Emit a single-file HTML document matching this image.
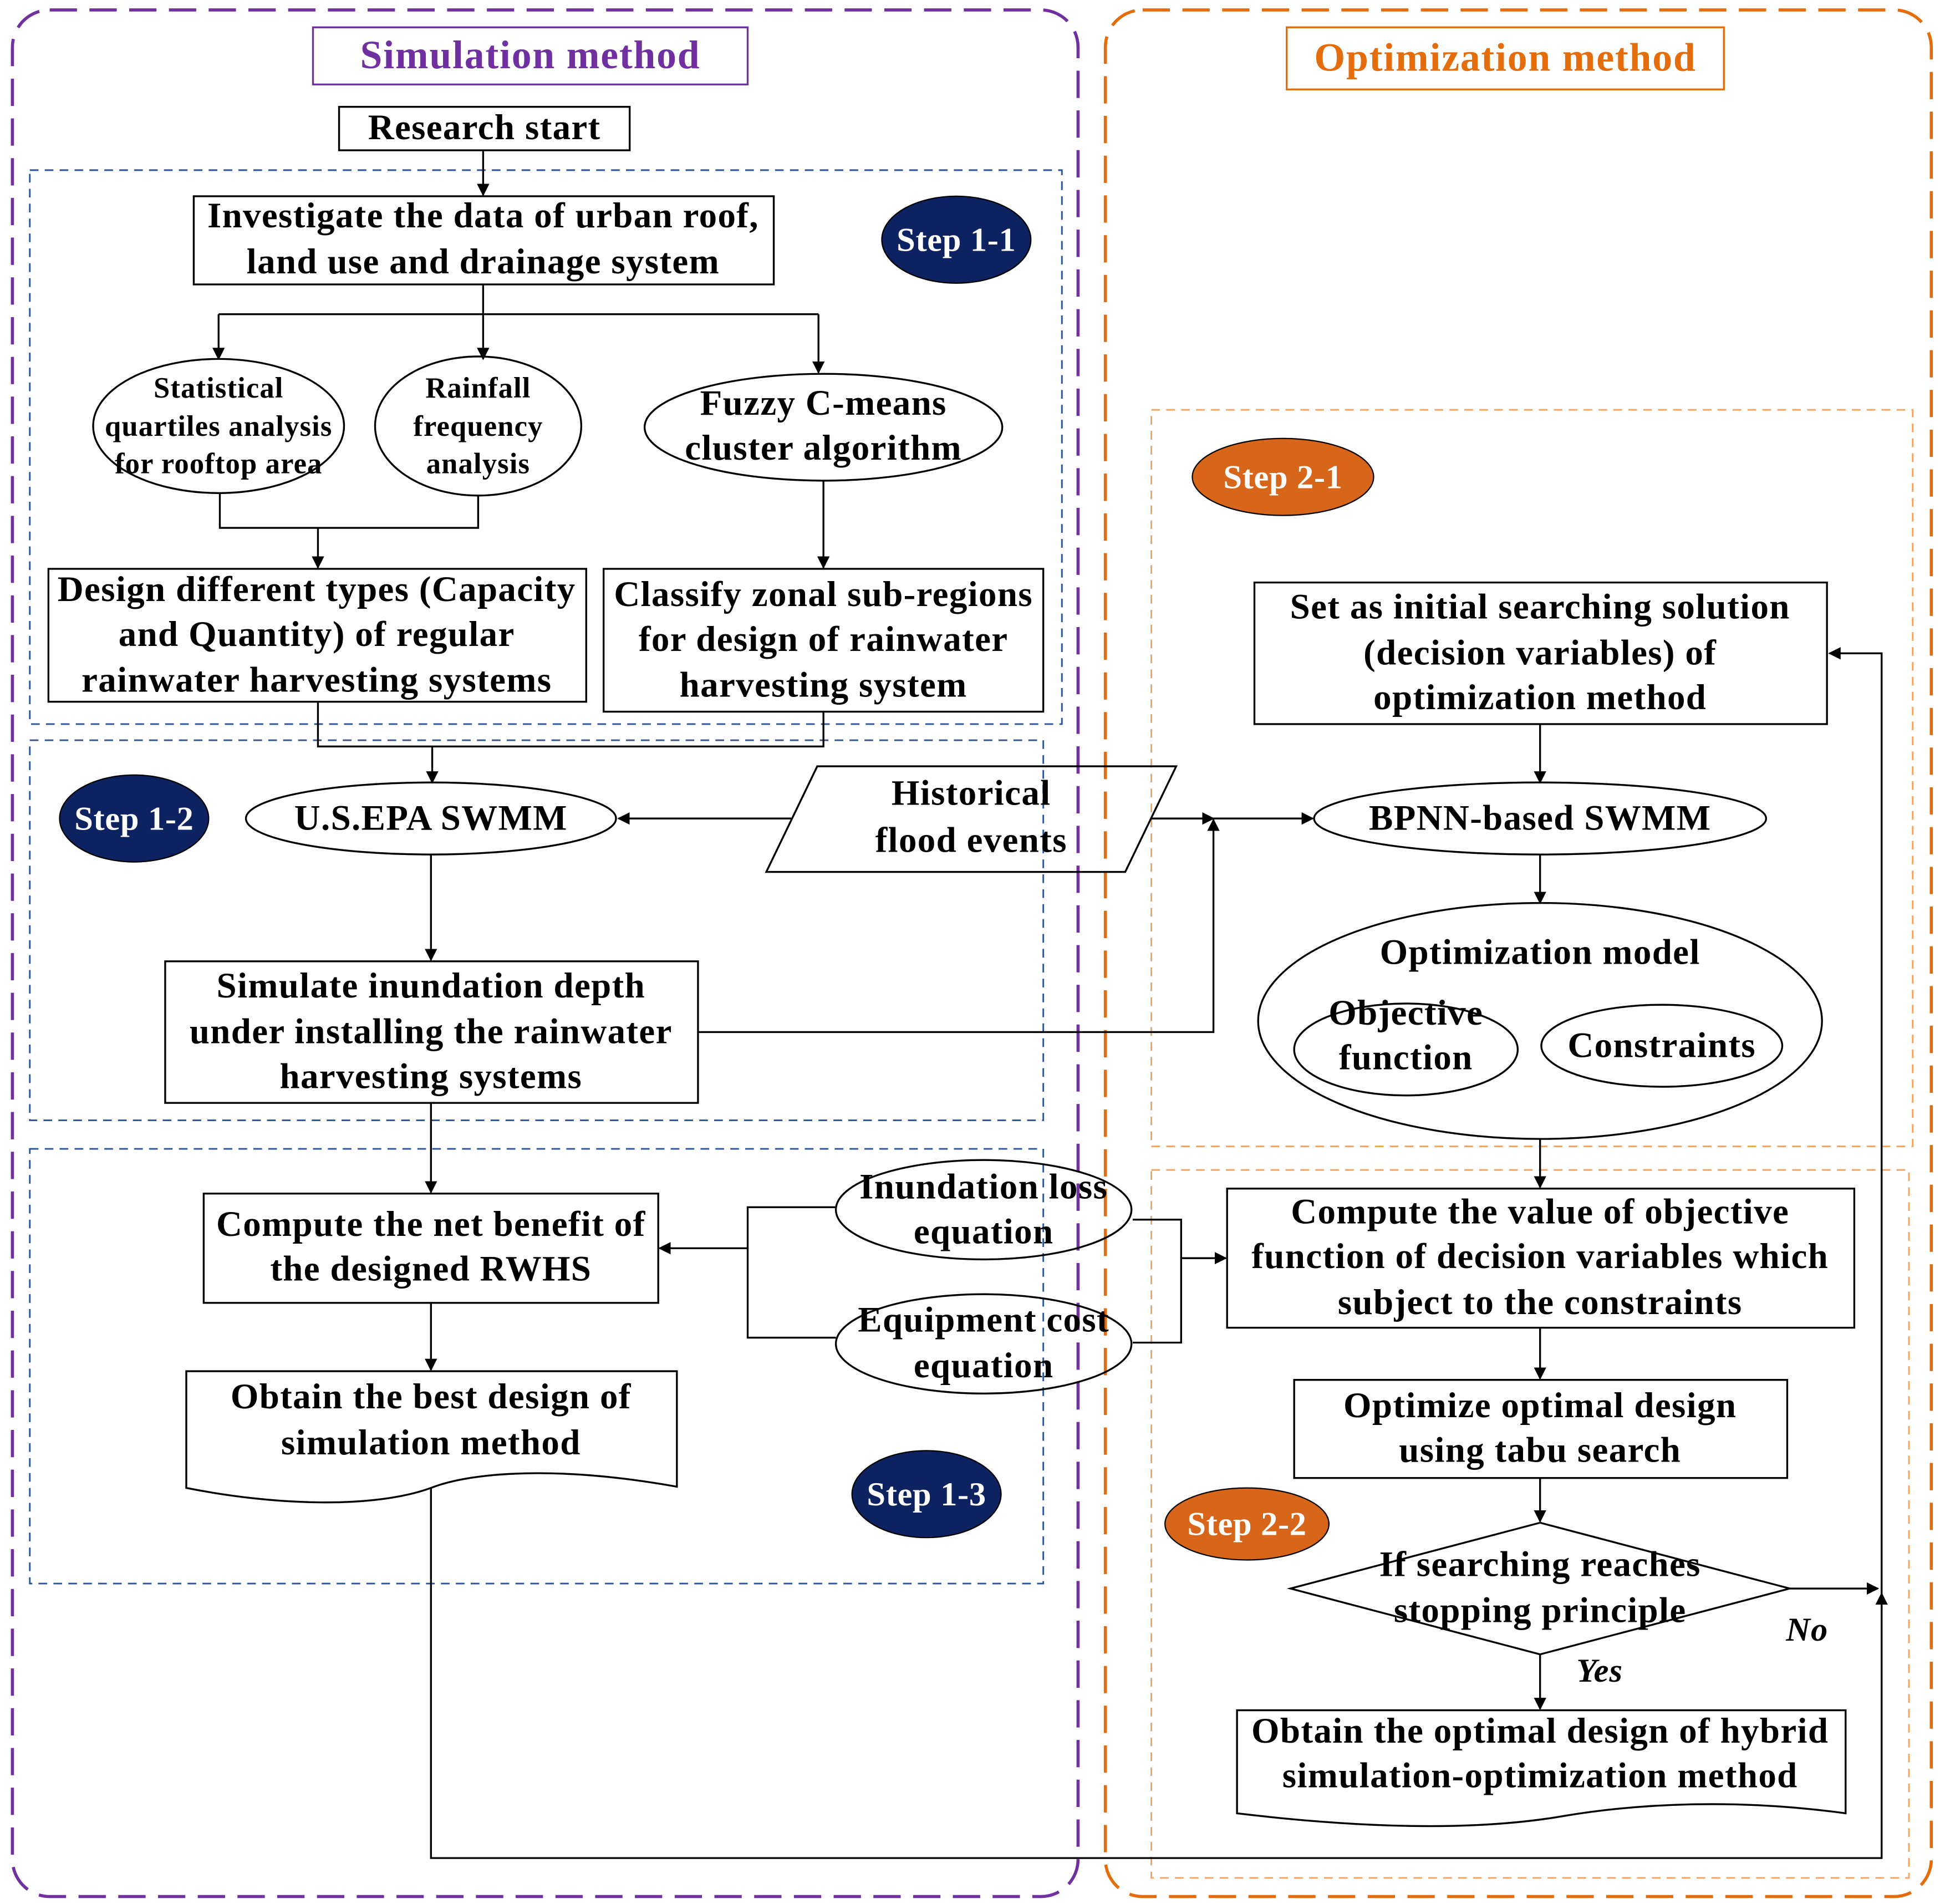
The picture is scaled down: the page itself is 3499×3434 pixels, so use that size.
<!DOCTYPE html>
<html><head><meta charset="utf-8"><style>
html,body{margin:0;padding:0;background:#fff;}
svg{display:block;}
text{font-family:"Liberation Serif",serif;font-weight:bold;fill:#000;}
</style></head><body>
<svg width="3499" height="3434" viewBox="0 0 1562 1533" preserveAspectRatio="none" xmlns="http://www.w3.org/2000/svg">
<defs>
<marker id="a" markerWidth="10" markerHeight="10" refX="9" refY="5" orient="auto" markerUnits="userSpaceOnUse"><path d="M0,0 L10,5 L0,10 z" fill="#000"/></marker>
</defs>
<rect width="1562" height="1533" fill="#fff"/>
<rect x="10" y="8" width="858" height="1519" rx="30" fill="none" stroke="#7030A0" stroke-width="2.5" stroke-dasharray="22,10"/>
<rect x="890" y="8" width="665" height="1519" rx="30" fill="none" stroke="#E46C0A" stroke-width="2.5" stroke-dasharray="22,10"/>
<rect x="252" y="22" width="350" height="46" fill="#fff" stroke="#7030A0" stroke-width="1.5"/>
<text x="427" y="55" font-size="32" letter-spacing="0.8" text-anchor="middle" style="fill:#7030A0">Simulation method</text>
<rect x="1036" y="22" width="352" height="50" fill="#fff" stroke="#E46C0A" stroke-width="1.5"/>
<text x="1212" y="57" font-size="32" letter-spacing="0.8" text-anchor="middle" style="fill:#E46C0A">Optimization method</text>
<g fill="none" stroke-width="1.3" stroke-dasharray="7,5">
<rect x="24" y="137" width="831" height="446" stroke="#2F5597"/>
<rect x="24" y="596" width="816" height="306" stroke="#2F5597"/>
<rect x="24" y="925" width="816" height="350" stroke="#2F5597"/>
<rect x="927" y="330" width="613" height="593" stroke="#F4A460"/>
<rect x="927" y="942" width="610" height="570" stroke="#F4A460"/>
</g>
<g fill="none" stroke="#000" stroke-width="1.5">
<rect x="273" y="86" width="234" height="35"/>
<rect x="156" y="158" width="467" height="71"/>
<rect x="39" y="458" width="433" height="107"/>
<rect x="486" y="458" width="354" height="115"/>
<rect x="133" y="774" width="429" height="114"/>
<rect x="164" y="961" width="366" height="88"/>
<rect x="1010" y="469" width="461" height="114"/>
<rect x="988" y="957" width="505" height="112"/>
<rect x="1042" y="1111" width="397" height="79"/>
<ellipse cx="176" cy="343" rx="101" ry="54"/>
<ellipse cx="385" cy="343" rx="83" ry="56"/>
<ellipse cx="663" cy="344" rx="144" ry="43"/>
<ellipse cx="347" cy="659" rx="149" ry="29"/>
<ellipse cx="792" cy="974" rx="119" ry="40"/>
<ellipse cx="792" cy="1082" rx="119" ry="40"/>
<ellipse cx="1240" cy="659" rx="182" ry="29"/>
<ellipse cx="1240" cy="822" rx="227" ry="95"/>
<ellipse cx="1132" cy="845" rx="90" ry="37"/>
<ellipse cx="1338" cy="842" rx="97" ry="33"/>
<polygon points="617,702 658,617 947,617 906,702"/>
<polygon points="1039,1279 1240,1226 1441,1279 1240,1332"/>
<path d="M150,1104 H545 V1197 C450,1180 380,1185 347,1198 C300,1215 220,1212 150,1198 Z"/>
<path d="M996,1377 H1486 V1460 C1400,1448 1320,1452 1260,1462 C1180,1476 1080,1470 996,1460 Z"/>
<path d="M389,121 V157" marker-end="url(#a)"/>
<path d="M389,229 V253 M176,253 H659"/>
<path d="M176,253 V289" marker-end="url(#a)"/>
<path d="M389,253 V289" marker-end="url(#a)"/>
<path d="M659,253 V300" marker-end="url(#a)"/>
<path d="M177,397 V425 H385 V399"/>
<path d="M256,425 V457" marker-end="url(#a)"/>
<path d="M663,387 V457" marker-end="url(#a)"/>
<path d="M256,565 V601 H663 V573"/>
<path d="M348,601 V630" marker-end="url(#a)"/>
<path d="M637,659 H498" marker-end="url(#a)"/>
<path d="M927,659 H1057" marker-end="url(#a)"/>
<path d="M927,659 H977" marker-end="url(#a)"/>
<path d="M562,831 H977 V660" marker-end="url(#a)"/>
<path d="M347,688 V773" marker-end="url(#a)"/>
<path d="M347,888 V960" marker-end="url(#a)"/>
<path d="M673,972 H602 V1077 H673"/>
<path d="M602,1005 H531" marker-end="url(#a)"/>
<path d="M912,982 H951 V1081 H912"/>
<path d="M951,1013 H987" marker-end="url(#a)"/>
<path d="M347,1049 V1103" marker-end="url(#a)"/>
<path d="M347,1198 V1496 H1515 V1283" marker-end="url(#a)"/>
<path d="M1240,583 V630" marker-end="url(#a)"/>
<path d="M1240,688 V727" marker-end="url(#a)"/>
<path d="M1240,917 V956" marker-end="url(#a)"/>
<path d="M1240,1069 V1110" marker-end="url(#a)"/>
<path d="M1240,1190 V1225" marker-end="url(#a)"/>
<path d="M1441,1279 H1512" marker-end="url(#a)"/>
<path d="M1515,1296 V526 H1473" marker-end="url(#a)"/>
<path d="M1240,1332 V1376" marker-end="url(#a)"/>
</g>
<g stroke="#000" stroke-width="1">
<ellipse cx="770" cy="193" rx="60" ry="35" fill="#0D2260"/>
<ellipse cx="108" cy="659" rx="60" ry="35" fill="#0D2260"/>
<ellipse cx="746" cy="1203" rx="60" ry="35" fill="#0D2260"/>
<ellipse cx="1033" cy="384" rx="73" ry="31" fill="#D8661A"/>
<ellipse cx="1004" cy="1227" rx="66" ry="29" fill="#D8661A"/>
</g>
<g font-size="27" text-anchor="middle" letter-spacing="0.3">
<text x="770" y="202" style="fill:#fff">Step 1-1</text>
<text x="108" y="668" style="fill:#fff">Step 1-2</text>
<text x="746" y="1212" style="fill:#fff">Step 1-3</text>
<text x="1033" y="393" style="fill:#fff">Step 2-1</text>
<text x="1004" y="1236" style="fill:#fff">Step 2-2</text>
</g>
<g font-size="29" text-anchor="middle" letter-spacing="0.6">
<text x="390" y="112">Research start</text>
<text x="389" y="183">Investigate the data of urban roof,</text>
<text x="389" y="220">land use and drainage system</text>
<text x="663" y="334">Fuzzy C-means</text>
<text x="663" y="370">cluster algorithm</text>
<text x="255" y="484">Design different types (Capacity</text>
<text x="255" y="520">and Quantity) of regular</text>
<text x="255" y="557">rainwater harvesting systems</text>
<text x="663" y="488">Classify zonal sub-regions</text>
<text x="663" y="524">for design of rainwater</text>
<text x="663" y="561">harvesting system</text>
<text x="347" y="668">U.S.EPA SWMM</text>
<text x="782" y="648">Historical</text>
<text x="782" y="686">flood events</text>
<text x="347" y="803">Simulate inundation depth</text>
<text x="347" y="840">under installing the rainwater</text>
<text x="347" y="876">harvesting systems</text>
<text x="347" y="995">Compute the net benefit of</text>
<text x="347" y="1031">the designed RWHS</text>
<text x="792" y="965">Inundation loss</text>
<text x="792" y="1001">equation</text>
<text x="792" y="1072">Equipment cost</text>
<text x="792" y="1109">equation</text>
<text x="347" y="1134">Obtain the best design of</text>
<text x="347" y="1171">simulation method</text>
<text x="1240" y="498">Set as initial searching solution</text>
<text x="1240" y="535">(decision variables) of</text>
<text x="1240" y="571">optimization method</text>
<text x="1240" y="668">BPNN-based SWMM</text>
<text x="1240" y="776">Optimization model</text>
<text x="1132" y="825">Objective</text>
<text x="1132" y="861">function</text>
<text x="1338" y="851">Constraints</text>
<text x="1240" y="985">Compute the value of objective</text>
<text x="1240" y="1021">function of decision variables which</text>
<text x="1240" y="1058">subject to the constraints</text>
<text x="1240" y="1141">Optimize optimal design</text>
<text x="1240" y="1177">using tabu search</text>
<text x="1240" y="1269">If searching reaches</text>
<text x="1240" y="1306">stopping principle</text>
<text x="1240" y="1403">Obtain the optimal design of hybrid</text>
<text x="1240" y="1439">simulation-optimization method</text>
</g>
<g font-size="23.5" text-anchor="middle" letter-spacing="0.5">
<text x="176" y="320">Statistical</text>
<text x="176" y="351">quartiles analysis</text>
<text x="176" y="381">for rooftop area</text>
<text x="385" y="320">Rainfall</text>
<text x="385" y="351">frequency</text>
<text x="385" y="381">analysis</text>
</g>
<g font-size="27" text-anchor="middle" letter-spacing="0.5">
<text x="1455" y="1321" font-style="italic">No</text>
<text x="1288" y="1354" font-style="italic">Yes</text>
</g>
</svg>
</body></html>
